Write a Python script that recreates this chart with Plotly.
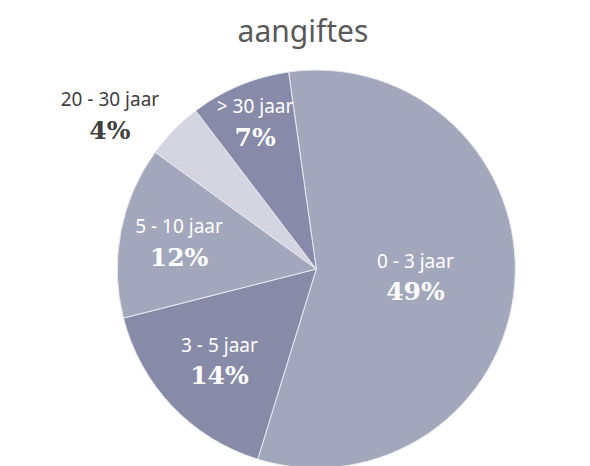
import plotly.graph_objects as go

categories = ["0 - 3 jaar", "3 - 5 jaar", "5 - 10 jaar", "20 - 30 jaar", "> 30 jaar"]
values = [49, 14, 12, 4, 7]
percent_labels = ["49%", "14%", "12%", "4%", "7%"]
colors = ["#a3a7bc", "#888ba8", "#a3a7bc", "#d4d5e1", "#878aa8"]
text_colors = ["#ffffff", "#ffffff", "#ffffff", "#404040", "#ffffff"]
positions = ["inside", "inside", "inside", "outside", "inside"]

texts = [
    f"<span style='font-family:Noto Sans, Open Sans, sans-serif;font-size:19px;font-weight:normal'>{c}</span><br><b>{p}</b>"
    for c, p in zip(categories, percent_labels)
]

fig = go.Figure(
    go.Pie(
        labels=categories,
        values=values,
        text=texts,
        textinfo="text",
        texttemplate="%{text}",
        textposition=positions,
        insidetextorientation="horizontal",
        sort=False,
        direction="clockwise",
        rotation=-8,
        marker=dict(colors=colors, line=dict(color="#e8e9f0", width=1)),
        textfont=dict(family="DejaVu Serif, Liberation Serif, serif", size=25, color=text_colors),
        outsidetextfont=dict(family="DejaVu Serif, Liberation Serif, serif", size=25, color="#404040"),
        showlegend=False,
        hoverinfo="label+text",
        domain=dict(x=[0, 0.9], y=[0, 1]),
    )
)

fig.update_layout(
    width=590,
    height=466,
    paper_bgcolor="white",
    plot_bgcolor="white",
    margin=dict(l=10, r=10, t=62, b=6),
    title=dict(
        text="aangiftes",
        x=0.5,
        xanchor="center",
        y=0.95,
        yanchor="middle",
        font=dict(family="Noto Sans, Open Sans, sans-serif", size=30, color="#595959"),
    ),
    uniformtext=dict(minsize=25, mode="show"),
)

fig.write_html("out.html")
